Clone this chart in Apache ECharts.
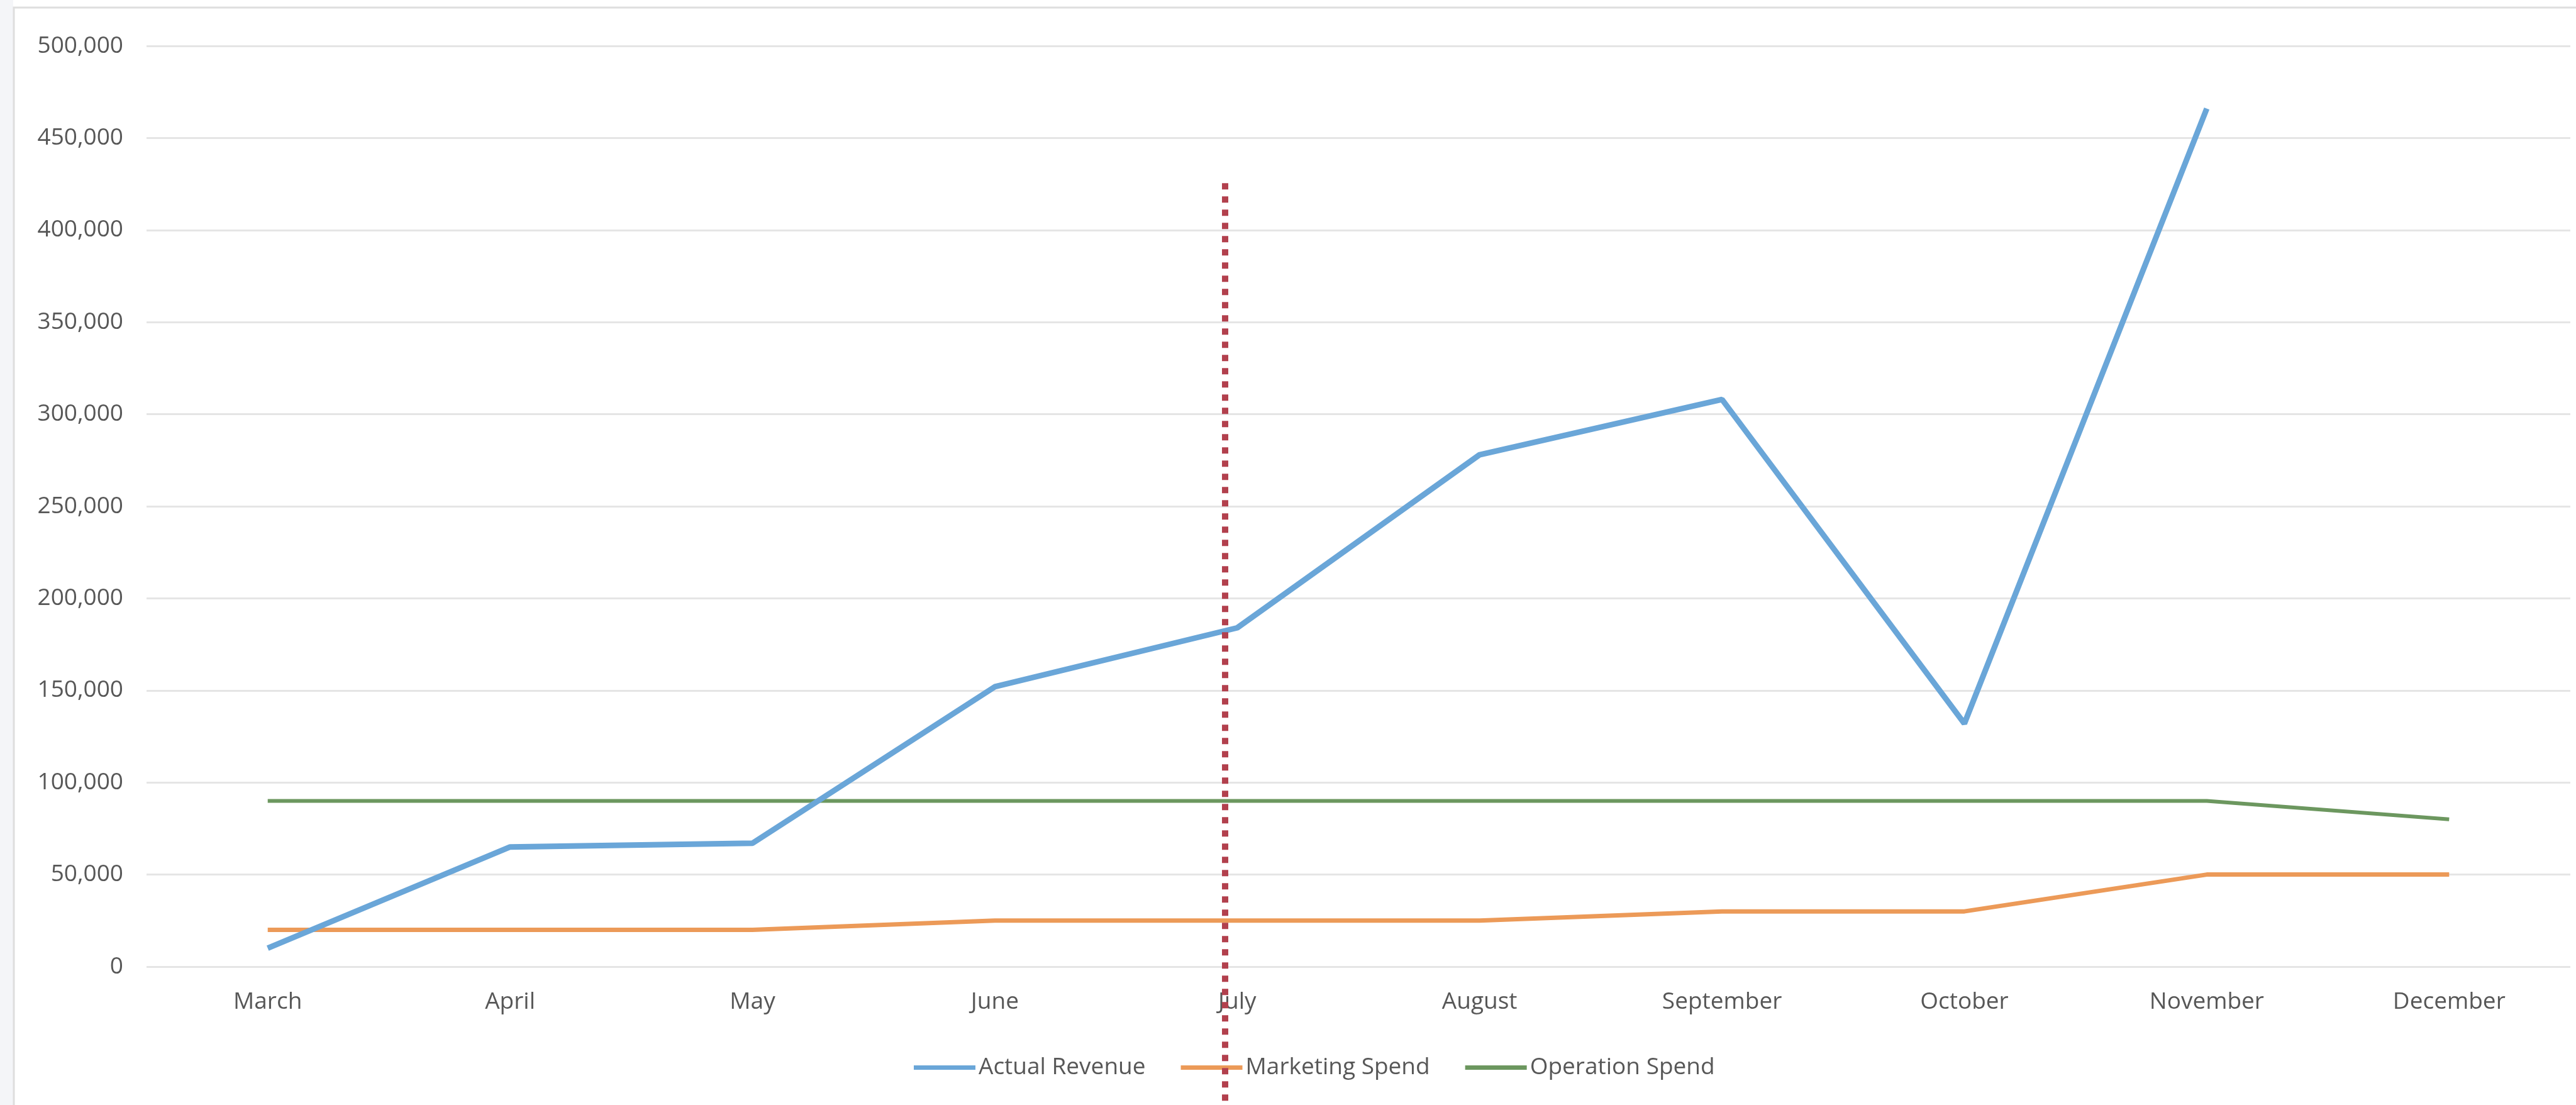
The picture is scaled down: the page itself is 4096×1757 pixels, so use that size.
<!DOCTYPE html>
<html>
<head>
<meta charset="utf-8">
<title>Revenue vs Spend</title>
<script src="https://cdn.jsdelivr.net/npm/echarts@6/dist/echarts.min.js"></script>
<style>
  html, body { margin: 0; padding: 0; background: #ffffff; }
  #chart { width: 4096px; height: 1757px; }
</style>
</head>
<body>
<div id="chart"></div>
<script>
// Months on the category axis
const months = ['March', 'April', 'May', 'June', 'July', 'August', 'September', 'October', 'November', 'December'];

// Monthly figures
const actualRevenue = [10000, 65000, 67000, 152000, 184000, 278000, 308000, 132000, 466000, null];
const marketingSpend = [20000, 20000, 20000, 25000, 25000, 25000, 30000, 30000, 50000, 50000];
const operationSpend = [90000, 90000, 90000, 90000, 90000, 90000, 90000, 90000, 90000, 80000];

// Value axis ticks
const yTicks = [0, 50000, 100000, 150000, 200000, 250000, 300000, 350000, 400000, 450000, 500000];

// Dotted "today" marker: position along the month index, and its vertical extent
const todayMarker = { index: 3.95, from: -80000, to: 429000 };

const FONT = '"Open Sans", "Noto Sans", sans-serif';
const TEXT = '#575757';

const chart = echarts.init(document.getElementById('chart'));

chart.setOption({
  animation: false,
  backgroundColor: '#ffffff',
  textStyle: { fontFamily: FONT },
  graphic: [
    {
      type: 'rect',
      silent: true,
      z: -10,
      shape: { x: 0, y: 0, width: 21, height: 1757 },
      style: { fill: '#f4f5f8' }
    },
    {
      type: 'rect',
      silent: true,
      z: -9,
      shape: { x: 22, y: 12, width: 4200, height: 2000 },
      style: { fill: 'none', stroke: '#dedede', lineWidth: 3 }
    }
  ],
  grid: { left: 233, right: 9, top: 73, bottom: 220, containLabel: false },
  legend: {
    left: 1448,
    top: 1674,
    itemWidth: 98,
    itemHeight: 7,
    itemGap: 56,
    icon: 'rect',
    selectedMode: false,
    data: ['Actual Revenue', 'Marketing Spend', 'Operation Spend'],
    textStyle: { fontFamily: FONT, fontSize: 37, color: TEXT }
  },
  xAxis: [
    {
      type: 'category',
      data: months,
      boundaryGap: true,
      axisLine: { show: false },
      axisTick: { show: false },
      axisLabel: { fontFamily: FONT, fontSize: 37, color: TEXT, margin: 38, interval: 0 }
    },
    {
      type: 'value',
      show: false,
      min: -0.5,
      max: months.length - 0.5
    }
  ],
  yAxis: {
    type: 'value',
    min: yTicks[0],
    max: yTicks[yTicks.length - 1],
    interval: yTicks[1] - yTicks[0],
    axisLine: { show: false },
    axisTick: { show: false },
    axisLabel: {
      fontFamily: FONT,
      fontSize: 37,
      color: TEXT,
      margin: 37,
      padding: [10, 0, 0, 0],
      formatter: v => v.toLocaleString('en-US')
    },
    splitLine: { lineStyle: { color: '#e5e5e5', width: 3 } }
  },
  series: [
    {
      name: 'Actual Revenue',
      type: 'line',
      data: actualRevenue,
      symbol: 'none',
      color: '#6aa6d8',
      lineStyle: { width: 9, color: '#6aa6d8' },
      z: 4
    },
    {
      name: 'Marketing Spend',
      type: 'line',
      data: marketingSpend,
      symbol: 'none',
      color: '#ec9a58',
      lineStyle: { width: 7, color: '#ec9a58' },
      z: 3
    },
    {
      name: 'Operation Spend',
      type: 'line',
      data: operationSpend,
      symbol: 'none',
      color: '#6c975f',
      lineStyle: { width: 6, color: '#6c975f' },
      z: 3
    },
    {
      name: 'today',
      type: 'line',
      xAxisIndex: 1,
      yAxisIndex: 0,
      data: [[todayMarker.index, todayMarker.from], [todayMarker.index, todayMarker.to]],
      symbol: 'none',
      clip: false,
      silent: true,
      z: 6,
      lineStyle: { width: 10, color: '#b2404d', type: [10, 11], cap: 'butt' }
    }
  ]
});
</script>
</body>
</html>
